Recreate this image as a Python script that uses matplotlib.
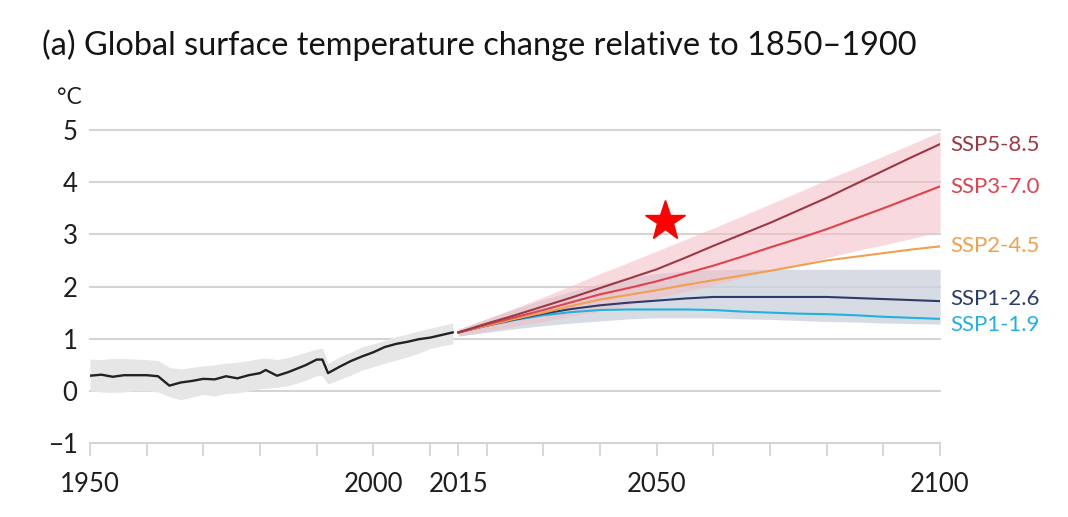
import matplotlib
matplotlib.use("Agg")
from matplotlib import pyplot as plt

plt.rcParams['font.family'] = ['Lato', 'DejaVu Sans']

# historical observations (1950-2014)
hist_years = [1950, 1952, 1954, 1956, 1958, 1960, 1962, 1964, 1966, 1968, 1970, 1972,
              1974, 1976, 1978, 1980, 1981, 1983, 1985, 1988, 1990, 1991, 1992, 1994,
              1996, 1998, 2000, 2002, 2004, 2006, 2008, 2010, 2012, 2014]
hist_mean = [0.29, 0.31, 0.27, 0.30, 0.30, 0.30, 0.28, 0.10, 0.16, 0.19, 0.23, 0.22,
             0.28, 0.24, 0.30, 0.34, 0.40, 0.29, 0.36, 0.49, 0.60, 0.60, 0.34, 0.46,
             0.57, 0.66, 0.74, 0.84, 0.90, 0.94, 0.99, 1.02, 1.07, 1.12]
hist_high = [0.61, 0.60, 0.62, 0.62, 0.61, 0.60, 0.58, 0.45, 0.42, 0.45, 0.48, 0.50,
             0.53, 0.55, 0.58, 0.62, 0.63, 0.60, 0.64, 0.74, 0.80, 0.82, 0.52, 0.65,
             0.74, 0.84, 0.90, 0.97, 1.04, 1.09, 1.15, 1.20, 1.25, 1.30]
hist_low = [0.00, -0.02, -0.03, -0.02, 0.00, 0.00, -0.02, -0.11, -0.17, -0.12, -0.07, -0.10,
            -0.05, -0.04, 0.00, 0.04, 0.05, 0.07, 0.10, 0.20, 0.29, 0.29, 0.13, 0.22,
            0.30, 0.40, 0.46, 0.53, 0.59, 0.65, 0.72, 0.81, 0.86, 0.90]

# scenario projections (2015-2100)
proj_years = [2015, 2020, 2025, 2030, 2035, 2040, 2045, 2050, 2055, 2060, 2065, 2070,
              2075, 2080, 2085, 2090, 2095, 2100]
ssp585 = [1.12, 1.29, 1.45, 1.62, 1.79, 1.97, 2.15, 2.33, 2.55, 2.78, 3.00, 3.22,
          3.46, 3.70, 3.96, 4.22, 4.48, 4.73]
ssp370 = [1.12, 1.27, 1.41, 1.55, 1.70, 1.85, 1.97, 2.10, 2.25, 2.40, 2.57, 2.75,
          2.92, 3.10, 3.30, 3.50, 3.71, 3.92]
ssp245 = [1.12, 1.25, 1.38, 1.50, 1.63, 1.75, 1.84, 1.93, 2.03, 2.12, 2.21, 2.30,
          2.40, 2.50, 2.57, 2.64, 2.71, 2.77]
ssp126 = [1.12, 1.25, 1.37, 1.48, 1.57, 1.64, 1.69, 1.73, 1.77, 1.80, 1.80, 1.80,
          1.80, 1.80, 1.78, 1.76, 1.74, 1.72]
ssp119 = [1.12, 1.25, 1.36, 1.45, 1.51, 1.55, 1.56, 1.56, 1.56, 1.55, 1.52, 1.50,
          1.48, 1.47, 1.45, 1.42, 1.40, 1.38]

# very likely ranges for SSP3-7.0 and SSP1-2.6
ssp370_high = [1.18, 1.38, 1.59, 1.80, 2.02, 2.25, 2.46, 2.68, 2.90, 3.12, 3.35, 3.58,
               3.81, 4.05, 4.27, 4.50, 4.73, 4.97]
ssp370_low = [1.05, 1.15, 1.24, 1.33, 1.43, 1.53, 1.65, 1.78, 1.90, 2.03, 2.17, 2.30,
              2.42, 2.55, 2.68, 2.80, 2.92, 3.05]
ssp126_high = [1.18, 1.38, 1.57, 1.75, 1.91, 2.05, 2.16, 2.25, 2.30, 2.32, 2.33, 2.33,
               2.33, 2.33, 2.33, 2.33, 2.33, 2.33]
ssp126_low = [1.05, 1.12, 1.19, 1.25, 1.30, 1.34, 1.38, 1.40, 1.40, 1.40, 1.38, 1.37,
              1.35, 1.33, 1.32, 1.30, 1.29, 1.28]

labels = ['SSP5-8.5', 'SSP3-7.0', 'SSP2-4.5', 'SSP1-2.6', 'SSP1-1.9']
label_y = [4.71, 3.91, 2.78, 1.76, 1.26]
colors = ['#9b3843', '#e0424f', '#f0a04e', '#2c3d6c', '#22b1e0']
xticks = [1950, 1960, 1970, 1980, 1990, 2000, 2010, 2015, 2020, 2030, 2040, 2050,
          2060, 2070, 2080, 2090, 2100]
xtick_labels = ['1950', '', '', '', '', '2000', '', '2015', '', '', '', '2050',
                '', '', '', '', '2100']

fig = plt.figure(figsize=(10.68, 5.17), dpi=100)
ax = fig.add_axes([0.0843, 0.1431, 0.7959, 0.6054])

# uncertainty bands
ax.fill_between(hist_years, hist_low, hist_high, color='#e6e6e6', lw=0, zorder=1)
ax.fill_between(proj_years, ssp126_low, ssp126_high, color='#cdd2dc', alpha=0.8, lw=0, zorder=1)
ax.fill_between(proj_years, ssp370_low, ssp370_high, color='#f4bcc3', alpha=0.55, lw=0, zorder=1)

ax.plot(hist_years, hist_mean, color='#222222', lw=1.7, zorder=3)
for vals, c in zip([ssp119, ssp126, ssp245, ssp370, ssp585], colors[::-1]):
    ax.plot(proj_years, vals, color=c, lw=1.5, zorder=3)

for lab, ly, c in zip(labels, label_y, colors):
    ax.text(2101.8, ly, lab, color=c, fontsize=16, va='center', ha='left', clip_on=False)

# red star
ax.plot([2051.5], [3.25], marker='*', color='#ff0000', markersize=30, lw=0, zorder=5, clip_on=False)

ax.set_xlim(1950, 2100)
ax.set_ylim(-1, 5)
ax.set_yticks([-1, 0, 1, 2, 3, 4, 5])
ax.set_yticklabels(['\u22121', '0', '1', '2', '3', '4', '5'])
ax.set_xticks(xticks)
ax.set_xticklabels(xtick_labels)
ax.yaxis.grid(True, color='#d4d4d4', lw=1.5)
for gl in ax.get_ygridlines():
    gl.set_clip_on(False)
ax.set_axisbelow(True)
for s in ax.spines.values():
    s.set_visible(False)
ax.tick_params(axis='y', length=0, pad=9, labelsize=18.5, labelcolor='#1e1e1e')
ax.tick_params(axis='x', length=9, width=1.3, color='#d4d4d4', pad=12, labelsize=18.5,
               labelcolor='#1e1e1e')

fig.text(0.039, 0.912, '(a) Global surface temperature change relative to 1850\u20131900',
         fontsize=23.4, color='#141414', ha='left', va='center')
fig.text(0.077, 0.812, '\u00b0C', fontsize=16.5, color='#1e1e1e', ha='right', va='center')

plt.savefig('out.png', dpi=100)
